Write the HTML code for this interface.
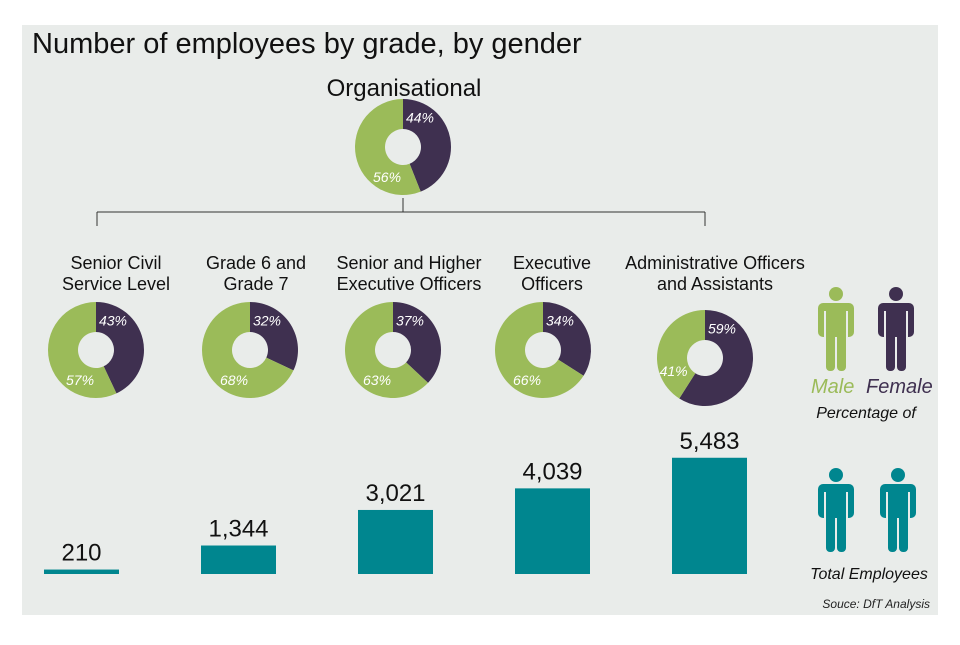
<!DOCTYPE html>
<html><head><meta charset="utf-8"><style>
body{margin:0;background:#fff;font-family:"Liberation Sans",sans-serif}
svg text{font-family:"Liberation Sans",sans-serif}
</style></head><body>
<svg id="c" width="960" height="640" viewBox="0 0 960 640">
<rect x="22" y="25" width="916" height="590" fill="#e9ecea"/>
<text x="32" y="53" font-size="29" fill="#111">Number of employees by grade, by gender</text>
<text x="404" y="96" font-size="24" text-anchor="middle" fill="#111">Organisational</text>
<g stroke="#333" stroke-width="1" fill="none">
<line x1="403" y1="198" x2="403" y2="212"/>
<line x1="97" y1="212" x2="705" y2="212"/>
<line x1="97" y1="212" x2="97" y2="226"/>
<line x1="705" y1="212" x2="705" y2="226"/>
</g>
<g id="donuts"></g>
<g id="bars"></g>
<g id="legend"></g>
<text x="866" y="418" font-size="16" font-style="italic" text-anchor="middle" fill="#111">Percentage of</text>
<text x="869" y="579" font-size="16" font-style="italic" text-anchor="middle" fill="#111">Total Employees</text>
<text x="930" y="608" font-size="12" font-style="italic" text-anchor="end" fill="#222">Souce: DfT Analysis</text>
<text x="811" y="393" font-size="20" font-style="italic" fill="#9bbb59">Male</text>
<text x="866" y="393" font-size="20" font-style="italic" fill="#3f3050">Female</text>
</svg>
<script>
const categories=["Organisational","Senior Civil Service Level","Grade 6 and Grade 7","Senior and Higher Executive Officers","Executive Officers","Administrative Officers and Assistants"];
const femalePct=[44,43,32,37,34,59];
const malePct=[56,57,68,63,66,41];
const totals=[null,210,1344,3021,4039,5483];
const labelLines=[null,["Senior Civil","Service Level"],["Grade 6 and","Grade 7"],["Senior and Higher","Executive Officers"],["Executive","Officers"],["Administrative Officers","and Assistants"]];
const totalLabels=[null,"210","1,344","3,021","4,039","5,483"];

const NS="http://www.w3.org/2000/svg";
function mk(t,a,p){const e=document.createElementNS(NS,t);for(const k in a)e.setAttribute(k,a[k]);p.appendChild(e);return e;}
const cx=[403,96,250,393,543,705], cy=[147,350,350,350,350,358];
const labelX=[403,116,256,409,552,715];
const barX=[0,44,201,358,515,672], barW=75, baseY=574;
const yScale=v=>v*0.0212;
const R=48, r=18;
function pt(x,y,rad,deg){const a=(deg-90)*Math.PI/180;return [x+rad*Math.cos(a),y+rad*Math.sin(a)];}
function arc(x,y,a0,a1){const [x0,y0]=pt(x,y,R,a0),[x1,y1]=pt(x,y,R,a1),[x2,y2]=pt(x,y,r,a1),[x3,y3]=pt(x,y,r,a0);const l=(a1-a0)>180?1:0;
return `M${x0},${y0}A${R},${R} 0 ${l} 1 ${x1},${y1}L${x2},${y2}A${r},${r} 0 ${l} 0 ${x3},${y3}Z`;}
const dg=document.getElementById('donuts');
for(let i=0;i<categories.length;i++){
 const g=mk('g',{},dg);
 
 
 const tot=femalePct[i]+malePct[i];
 const fe=femalePct[i]/tot*360;
 const f=mk('path',{d:arc(cx[i],cy[i],0,fe),fill:'#3f3050'},g);
 
 
 const m=mk('path',{d:arc(cx[i],cy[i],fe,360),fill:'#9bbb59'},g);
 
 
 const [fx,fy]=pt(cx[i],cy[i],34,Math.min(30,fe/2));
 const ft=mk('text',{x:fx,y:fy+5,'font-size':14,'font-style':'italic','text-anchor':'middle',fill:'#fff'},g);ft.textContent=femalePct[i]+'%';
 
 
 const [mx,my]=pt(cx[i],cy[i],34,Math.max(fe+35,208));
 const mt=mk('text',{x:mx,y:my+5,'font-size':14,'font-style':'italic','text-anchor':'middle',fill:'#fff'},g);mt.textContent=malePct[i]+'%';
 
 
 if(labelLines[i]){
  labelLines[i].forEach((s,j)=>{const t=mk('text',{x:labelX[i],y:269+j*21,'font-size':18,'text-anchor':'middle',fill:'#111'},g);t.textContent=s;
  
  });
 }
}
const bg=document.getElementById('bars');
for(let i=1;i<totals.length;i++){
 const h=yScale(totals[i]);
 const b=mk('rect',{x:barX[i],y:baseY-h,width:barW,height:h,fill:'#00868f'},bg);
 
 
 const t=mk('text',{x:barX[i]+barW/2,y:baseY-h-9,'font-size':24,'text-anchor':'middle',fill:'#111'},bg);t.textContent=totalLabels[i];
 
 
}
const lg=document.getElementById('legend');
function person(x,y,col,name){
 const g=mk('g',{transform:`translate(${x},${y})`,fill:col},lg);
 
 
 mk('circle',{cx:18,cy:7,r:7},g);
 mk('rect',{x:0,y:16,width:36,height:34,rx:5},g);
 mk('rect',{x:8,y:44,width:9,height:40,rx:4},g);
 mk('rect',{x:19,y:44,width:9,height:40,rx:4},g);
 mk('rect',{x:6,y:24,width:2,height:26,fill:'#e9ecea'},g);
 mk('rect',{x:28,y:24,width:2,height:26,fill:'#e9ecea'},g);
 mk('rect',{x:17,y:56,width:2,height:28,fill:'#e9ecea'},g);
}
person(818,287,'#9bbb59','male-icon');
person(878,287,'#3f3050','female-icon');
person(818,468,'#00868f','total-icon-1');
person(880,468,'#00868f','total-icon-2');
</script>
</body></html>
